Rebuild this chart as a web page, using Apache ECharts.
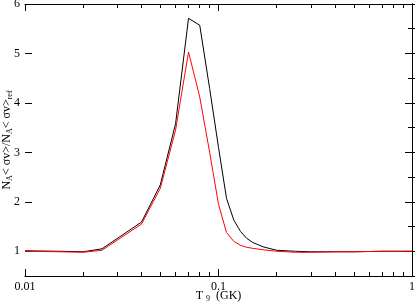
<!DOCTYPE html>
<html>
<head>
<meta charset="utf-8">
<script src="https://cdn.jsdelivr.net/npm/echarts@6/dist/echarts.min.js"></script>
<style>
  html, body { margin: 0; padding: 0; background: #fff; }
  #chart { width: 415px; height: 303px; }
</style>
</head>
<body>
<div id="chart"></div>
<script>
// temperature grid (GK)
const t9 = [0.01, 0.015, 0.02, 0.025, 0.04, 0.05, 0.06, 0.07, 0.08, 0.09, 0.1,
  0.11, 0.12, 0.13, 0.14, 0.15, 0.17, 0.2, 0.25, 0.3, 0.4, 0.5, 0.7, 1]
// rate ratio, black curve
const ratioBlack = [1.01, 1.0, 0.99, 1.05, 1.59, 2.34, 3.58, 5.71, 5.57, 4.29, 3.1,
  2.07, 1.63, 1.40, 1.26, 1.18, 1.09, 1.02, 1.0, 0.99, 0.99, 0.99, 1.0, 1.0]
// rate ratio, red curve
const ratioRed = [1.0, 0.99, 0.98, 1.02, 1.55, 2.27, 3.45, 5.03, 4.12, 3.0, 1.95,
  1.38, 1.2, 1.12, 1.08, 1.06, 1.03, 1.0, 0.98, 0.98, 0.99, 0.99, 1.0, 1.0]

// tick positions
const xMajor = [0.01, 0.1, 1]
const xMinor = [0.02, 0.03, 0.04, 0.05, 0.06, 0.07, 0.08, 0.09,
  0.2, 0.3, 0.4, 0.5, 0.6, 0.7, 0.8, 0.9]
const yMajor = [1, 2, 3, 4, 5, 6]

const FONT = 'Liberation Serif'
const X_MIN = -2, X_MAX = 0, Y_MIN = 0.5, Y_MAX = 6
const MAJOR_LEN = 7, MINOR_LEN = 4
const lg = v => Math.log10(v)
const chart = echarts.init(document.getElementById('chart'), null, { renderer: 'canvas' })

// fine category scaffolds so minor/major ticks land on uneven positions
const X_STEPS = 1000 // per decade
const xSlots = []
for (let i = 0; i <= (X_MAX - X_MIN) * X_STEPS; i++) xSlots.push(String(i))
const xMinorIdx = new Set(xMinor.map(v => Math.round((lg(v) - X_MIN) * X_STEPS)))
const ySlots = []
for (let v = Y_MIN; v <= Y_MAX + 1e-9; v += 0.5) ySlots.push(v.toFixed(1))

const line = { color: '#000', width: 1 }

// x axis runs over log10(T9), labels show T9 itself
function xValueAx(pos) {
  return {
    type: 'value', min: X_MIN, max: X_MAX, interval: 1, position: pos,
    axisLine: { show: true, lineStyle: line },
    axisTick: { show: true, inside: true, length: MAJOR_LEN, lineStyle: line },
    axisLabel: {
      show: pos === 'bottom', customValues: xMajor.map(lg), margin: 5,
      color: '#000', fontFamily: FONT, fontSize: 12,
      formatter: v => String(+Math.pow(10, v).toPrecision(3))
    },
    splitLine: { show: false }
  }
}
function xMinorAx(pos) {
  return {
    type: 'category', data: xSlots, boundaryGap: false, position: pos,
    axisLine: { show: false },
    axisTick: {
      show: true, inside: true, length: MINOR_LEN, lineStyle: line,
      interval: i => xMinorIdx.has(i)
    },
    axisLabel: { show: false },
    splitLine: { show: false }
  }
}

function yValueAx(pos) {
  return {
    type: 'value', min: Y_MIN, max: Y_MAX, interval: 0.5, position: pos,
    axisLine: { show: true, lineStyle: line },
    axisTick: { show: true, inside: true, length: MINOR_LEN, lineStyle: line },
    axisLabel: {
      show: pos === 'left', customValues: yMajor, margin: 5,
      color: '#000', fontFamily: FONT, fontSize: 12
    },
    splitLine: { show: false }
  }
}
function yMajorAx(pos) {
  return {
    type: 'category', data: ySlots, boundaryGap: false, position: pos,
    axisLine: { show: false },
    axisTick: {
      show: true, inside: true, length: MAJOR_LEN, lineStyle: line,
      interval: (i, v) => yMajor.includes(+v)
    },
    axisLabel: { show: false },
    splitLine: { show: false }
  }
}

const xAxes = [xValueAx('bottom'), xValueAx('top'), xMinorAx('bottom'), xMinorAx('top')]
Object.assign(xAxes[0], {
  name: 'T{s|9} (GK)', nameLocation: 'middle', nameGap: 12, nameMoveOverlap: false,
  nameTextStyle: {
    color: '#000', fontFamily: FONT, fontSize: 12, verticalAlign: 'top',
    rich: { s: { fontSize: 8, fontFamily: FONT, padding: [7, 3, 0, 3] } }
  }
})

const yAxes = [yValueAx('left'), yValueAx('right'), yMajorAx('left'), yMajorAx('right')]
Object.assign(yAxes[0], {
  name: 'N{s|A}< σv>/N{s|A}< σv>{s|ref}', nameLocation: 'middle', nameGap: 11,
  nameRotate: 90, nameMoveOverlap: false,
  nameTextStyle: {
    color: '#000', fontFamily: FONT, fontSize: 12,
    rich: { s: { fontSize: 8, fontFamily: FONT, padding: [7, 0, 0, 0] } }
  }
})

chart.setOption({
  animation: false,
  grid: { left: 25, right: 3, top: 4, bottom: 27, outerBoundsMode: 'none' },
  xAxis: xAxes,
  yAxis: yAxes,
  series: [
    {
      type: 'line', name: 'black', showSymbol: false, xAxisIndex: 0, yAxisIndex: 0,
      data: t9.map((t, i) => [lg(t), ratioBlack[i]]),
      lineStyle: { color: '#000', width: 1 }
    },
    {
      type: 'line', name: 'red', showSymbol: false, xAxisIndex: 0, yAxisIndex: 0,
      data: t9.map((t, i) => [lg(t), ratioRed[i]]),
      lineStyle: { color: '#ff0000', width: 1 }
    }
  ]
})
</script>
</body>
</html>
